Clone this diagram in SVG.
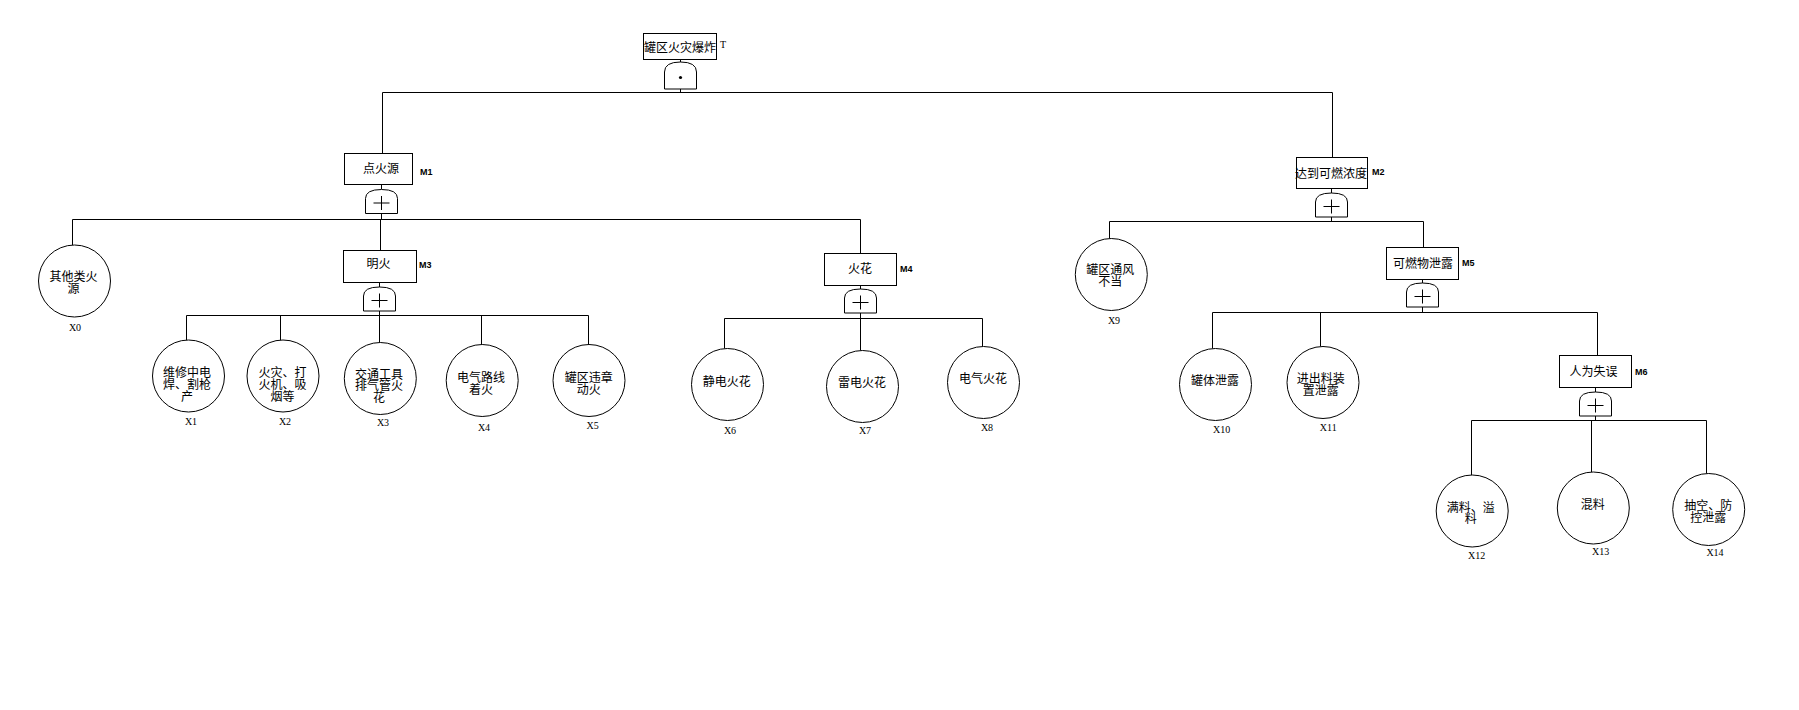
<svg xmlns="http://www.w3.org/2000/svg" xmlns:xlink="http://www.w3.org/1999/xlink" width="1799" height="710" viewBox="0 0 1799 710">
<style>
.bx{fill:#fff;stroke:#000;stroke-width:1}
.ev{fill:#fff;stroke:#000;stroke-width:1}
.gt{fill:#fff;stroke:#000;stroke-width:1}
.cn{fill:none;stroke:#000;stroke-width:1}
.t{font-family:"Noto Sans CJK SC","Noto Sans",sans-serif;font-size:12px;fill:#000;text-anchor:middle;dominant-baseline:central}
.lx{font-family:"Liberation Serif",serif;font-size:10px;fill:#000;text-anchor:middle;dominant-baseline:central}
.lm{font-family:"Liberation Sans",sans-serif;font-size:9px;font-weight:bold;fill:#000;dominant-baseline:central}
</style>
<defs>
<g id="org"><path class="gt" d="M0,24 V9 Q0,0 16,0 Q32,0 32,9 V24 Z"/><path class="cn" d="M8,13.5 H24 M16,6.5 V20.5"/></g>
<g id="andg"><path class="gt" d="M0,27 V10 Q0,0 16,0 Q32,0 32,10 V27 Z"/><circle cx="16" cy="15.5" r="1.6" fill="#000"/></g>
</defs>
<rect width="1799" height="710" fill="#fff"/>
<g id="connectors">
<path class="cn" d="M680.5,59 V62 M680.5,89 V92.5 M382.5,92.5 H1332.5 M382.5,92.5 V153.5 M1332.5,92.5 V157
M381.5,184.5 V189 M381.5,213 V219.5 M72.5,219.5 H860.5 M72.5,219.5 V245 M380.5,219.5 V250.5 M860.5,219.5 V253.5
M379.5,282.5 V287 M379.5,311 V315.5 M186.5,315.5 H588.5 M186.5,315.5 V340.5 M280.5,315.5 V340.5 M379.5,315.5 V342.5 M481.5,315.5 V344.5 M588.5,315.5 V344.5
M860.5,285.5 V289 M860.5,313 V318.5 M724.5,318.5 H982.5 M724.5,318.5 V348.5 M860.5,318.5 V350.5 M982.5,318.5 V346.5
M1331.5,188.5 V193 M1331.5,217 V221.5 M1109.5,221.5 H1423.5 M1109.5,221.5 V238.5 M1423.5,221.5 V247.5
M1422.5,279.5 V283 M1422.5,307 V312.5 M1212.5,312.5 H1597.5 M1212.5,312.5 V348.5 M1320.5,312.5 V346.5 M1597.5,312.5 V355.5
M1595.5,387.5 V392 M1595.5,416 V420.5 M1471.5,420.5 H1706.5 M1471.5,420.5 V475 M1591.5,420.5 V472 M1706.5,420.5 V473.5"/>
</g>
<g id="T">
<rect class="bx" x="643.5" y="33.5" width="73" height="26"/>
<text class="t" x="680" y="46">罐区火灾爆炸</text>
<text class="lx" x="723" y="44">T</text>
<use xlink:href="#andg" x="664.5" y="62"/>
</g>
<g id="M1">
<rect class="bx" x="344.5" y="153.5" width="68" height="31"/>
<text class="t" x="381" y="167">点火源</text>
<text class="lm" x="420" y="172">M1</text>
<use xlink:href="#org" x="365.5" y="189.5"/>
</g>
<g id="M2">
<rect class="bx" x="1296.5" y="157.5" width="71" height="31"/>
<text class="t" x="1331" y="172">达到可燃浓度</text>
<text class="lm" x="1372" y="172">M2</text>
<use xlink:href="#org" x="1315.5" y="193"/>
</g>
<g id="M3">
<rect class="bx" x="343.5" y="250.5" width="73" height="32"/>
<text class="t" x="378.5" y="262.5">明火</text>
<text class="lm" x="419" y="265">M3</text>
<use xlink:href="#org" x="363.5" y="287"/>
</g>
<g id="M4">
<rect class="bx" x="824.5" y="253.5" width="72" height="32"/>
<text class="t" x="860" y="267.5">火花</text>
<text class="lm" x="900" y="268.5">M4</text>
<use xlink:href="#org" x="844.5" y="289"/>
</g>
<g id="M5">
<rect class="bx" x="1386.5" y="247.5" width="72" height="32"/>
<text class="t" x="1423" y="262">可燃物泄露</text>
<text class="lm" x="1462" y="263">M5</text>
<use xlink:href="#org" x="1406.5" y="283"/>
</g>
<g id="M6">
<rect class="bx" x="1559.5" y="355.5" width="72" height="32"/>
<text class="t" x="1593.5" y="370">人为失误</text>
<text class="lm" x="1635" y="372">M6</text>
<use xlink:href="#org" x="1579.5" y="392"/>
</g>
<g id="X0">
<circle class="ev" cx="74.5" cy="281" r="36"/>
<text class="t" x="73.5" y="275">其他类火</text>
<text class="t" x="73.5" y="287.5">源</text>
<text class="lx" x="75" y="327">X0</text>
</g>
<g id="X1">
<circle class="ev" cx="188.5" cy="376" r="36"/>
<text class="t" x="187" y="371.7">维修中电</text>
<text class="t" x="187" y="383.4">焊、割枪</text>
<text class="t" x="187" y="395.1">产</text>
<text class="lx" x="191" y="421">X1</text>
</g>
<g id="X2">
<circle class="ev" cx="283" cy="376" r="36"/>
<text class="t" x="282.5" y="371.7">火灾、打</text>
<text class="t" x="282.5" y="383.4">火机、吸</text>
<text class="t" x="282.5" y="395.1">烟等</text>
<text class="lx" x="285" y="421">X2</text>
</g>
<g id="X3">
<circle class="ev" cx="380.3" cy="378.5" r="36"/>
<text class="t" x="379" y="373">交通工具</text>
<text class="t" x="379" y="384.7">排气管火</text>
<text class="t" x="379" y="396.4">花</text>
<text class="lx" x="383" y="422">X3</text>
</g>
<g id="X4">
<circle class="ev" cx="482.2" cy="380.5" r="36"/>
<text class="t" x="481" y="376.7">电气路线</text>
<text class="t" x="481" y="388.4">着火</text>
<text class="lx" x="484" y="427">X4</text>
</g>
<g id="X5">
<circle class="ev" cx="589" cy="380.5" r="36"/>
<text class="t" x="588.8" y="376.7">罐区违章</text>
<text class="t" x="588.8" y="388.4">动火</text>
<text class="lx" x="592.7" y="425">X5</text>
</g>
<g id="X6">
<circle class="ev" cx="727.5" cy="384.5" r="36"/>
<text class="t" x="726.7" y="380">静电火花</text>
<text class="lx" x="730" y="430">X6</text>
</g>
<g id="X7">
<circle class="ev" cx="862.5" cy="386.5" r="36"/>
<text class="t" x="862" y="381">雷电火花</text>
<text class="lx" x="865" y="430">X7</text>
</g>
<g id="X8">
<circle class="ev" cx="983.5" cy="382.5" r="36"/>
<text class="t" x="983" y="377">电气火花</text>
<text class="lx" x="987" y="427">X8</text>
</g>
<g id="X9">
<circle class="ev" cx="1111.3" cy="274.5" r="36"/>
<text class="t" x="1110.3" y="268.3">罐区通风</text>
<text class="t" x="1110.3" y="280">不当</text>
<text class="lx" x="1114" y="320">X9</text>
</g>
<g id="X10">
<circle class="ev" cx="1215.5" cy="384.5" r="36"/>
<text class="t" x="1215" y="379.3">罐体泄露</text>
<text class="lx" x="1221.7" y="429">X10</text>
</g>
<g id="X11">
<circle class="ev" cx="1323" cy="382.5" r="36"/>
<text class="t" x="1320.8" y="377.5">进出料装</text>
<text class="t" x="1320.8" y="389.2">置泄露</text>
<text class="lx" x="1328.3" y="427.3">X11</text>
</g>
<g id="X12">
<circle class="ev" cx="1472.2" cy="511" r="36"/>
<text class="t" x="1470.8" y="506">满料、溢</text>
<text class="t" x="1470.8" y="517.7">料</text>
<text class="lx" x="1476.7" y="555">X12</text>
</g>
<g id="X13">
<circle class="ev" cx="1593.3" cy="508" r="36"/>
<text class="t" x="1592.7" y="503.3">混料</text>
<text class="lx" x="1600.7" y="551.7">X13</text>
</g>
<g id="X14">
<circle class="ev" cx="1708.7" cy="509.5" r="36"/>
<text class="t" x="1708.3" y="504.5">抽空、防</text>
<text class="t" x="1708.3" y="516">控泄露</text>
<text class="lx" x="1715" y="552.3">X14</text>
</g>
</svg>
